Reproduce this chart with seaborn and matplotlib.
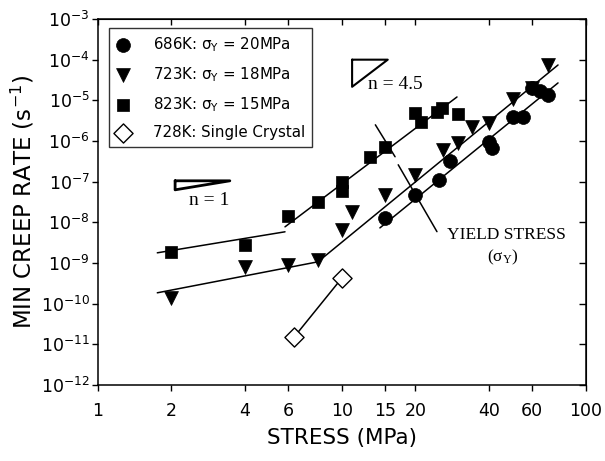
import numpy as np
import pandas as pd
import matplotlib
matplotlib.use("Agg")
import matplotlib.pyplot as plt
import seaborn as sns
from matplotlib.ticker import FixedLocator, NullLocator, FixedFormatter

# ---------------- data ----------------
x686 = [15, 20, 25, 27.7, 40, 41, 50, 55, 60, 65, 70]
y686 = [1.3e-8, 4.6e-8, 1.1e-7, 3.3e-7, 9.6e-7, 6.8e-7, 4.0e-6, 3.9e-6, 2.0e-5, 1.7e-5, 1.35e-5]

x723 = [2, 4, 6, 8, 10, 11, 15, 20, 26, 30, 34, 40, 50, 60, 70]
y723 = [1.4e-10, 8e-10, 9e-10, 1.2e-9, 6.3e-9, 1.8e-8, 4.7e-8, 1.5e-7, 6e-7, 9e-7,
        2.2e-6, 2.8e-6, 1.1e-5, 2e-5, 7.4e-5]

x823 = [2, 4, 6, 8, 10, 10, 13, 15, 20, 21, 24.5, 25.8, 30]
y823 = [1.9e-9, 2.8e-9, 1.4e-8, 3.2e-8, 1.0e-7, 5.8e-8, 4.0e-7, 7.2e-7, 4.9e-6, 3.0e-6,
        5.2e-6, 6.5e-6, 4.7e-6]

x728 = [6.36, 10]
y728 = [1.5e-11, 4.3e-10]

labels = [r"686K: $\sigma_Y$ = 20MPa",
          r"723K: $\sigma_Y$ = 18MPa",
          r"823K: $\sigma_Y$ = 15MPa",
          "728K: Single Crystal"]

# fitted lines (endpoints)
fit_823_low_x, fit_823_low_y = [1.75, 5.84], [1.78e-9, 5.85e-9]
fit_823_high_x, fit_823_high_y = [5.84, 29.6], [7.75e-9, 1.21e-5]
fit_723_low_x, fit_723_low_y = [1.75, 7.97], [1.85e-10, 1.07e-9]
fit_723_high_x, fit_723_high_y = [7.97, 76.8], [1.07e-9, 7.4e-5]
fit_686_x, fit_686_y = [14.3, 76.8], [7.3e-9, 2.68e-5]

# yield stress markers
ys1_x, ys1_y = [13.7, 16.5], [2.5e-6, 4.1e-7]
ys2_x, ys2_y = [17.0, 24.5], [2.6e-7, 5.9e-9]

# slope triangles
tri1_x, tri1_y = [2.07, 3.47, 2.07, 2.07], [1.05e-7, 1.05e-7, 6.3e-8, 1.05e-7]
tri45_x, tri45_y = [11.0, 15.4, 11.0, 11.0], [1.0e-4, 1.0e-4, 2.15e-5, 1.0e-4]

xticks = [1, 2, 4, 6, 10, 15, 20, 40, 60, 100]
xticklabels = ["1", "2", "4", "6", "10", "15", "20", "40", "60", "100"]
yexp = list(range(-12, -2))

# ---------------- style ----------------
sns.set_style("ticks")
plt.rcParams["font.family"] = ["DejaVu Sans"]
plt.rcParams["mathtext.fontset"] = "dejavusans"
plt.rcParams["mathtext.default"] = "regular"
for k in ["text.color", "axes.labelcolor", "xtick.color", "ytick.color",
          "xtick.labelcolor", "ytick.labelcolor", "axes.edgecolor"]:
    plt.rcParams[k] = "black"

fig, ax = plt.subplots(figsize=(6.05, 4.61), dpi=100)
fig.subplots_adjust(left=98/605, right=586/605, top=1-19/461, bottom=1-385/461)

sns.scatterplot(x=x686, y=y686, marker="o", s=100, color="black", edgecolor="black",
                linewidth=0.5, label=labels[0], ax=ax, zorder=3)
sns.scatterplot(x=x723, y=y723, marker="v", s=100, color="black", edgecolor="black",
                linewidth=0.5, label=labels[1], ax=ax, zorder=3)
sns.scatterplot(x=x823, y=y823, marker="s", s=85, color="black", edgecolor="black",
                linewidth=0.5, label=labels[2], ax=ax, zorder=3)
sns.scatterplot(x=x728, y=y728, marker="D", s=95, color="white", edgecolor="black",
                linewidth=1.0, label=labels[3], ax=ax, zorder=3)

lkw = dict(color="black", linewidth=1.1, legend=False, ax=ax, sort=False, zorder=2)
for xs, ys in [(fit_823_low_x, fit_823_low_y), (fit_823_high_x, fit_823_high_y),
               (fit_723_low_x, fit_723_low_y), (fit_723_high_x, fit_723_high_y),
               (fit_686_x, fit_686_y), (x728, y728), (ys1_x, ys1_y), (ys2_x, ys2_y)]:
    sns.lineplot(x=xs, y=ys, **lkw)

ax.plot(tri1_x, tri1_y, color="black", linewidth=2.0, solid_joinstyle="round")
ax.plot(tri45_x, tri45_y, color="black", linewidth=1.5)

ax.set_xscale("log")
ax.set_yscale("log")
ax.set_xlim(1, 100)
ax.set_ylim(1e-12, 1e-3)

ax.xaxis.set_major_locator(FixedLocator(xticks))
ax.xaxis.set_major_formatter(FixedFormatter(xticklabels))
ax.xaxis.set_minor_locator(NullLocator())
ax.yaxis.set_major_locator(FixedLocator([10.0**e for e in yexp]))
ax.yaxis.set_major_formatter(FixedFormatter([r"$10^{%d}$" % e for e in yexp]))
ax.yaxis.set_minor_locator(NullLocator())
ax.tick_params(axis="both", direction="out", length=4, width=1, labelsize=12.5,
               colors="black")
ax.tick_params(axis="x", pad=8)
ax.tick_params(axis="y", pad=2)

for sp in ax.spines.values():
    sp.set_linewidth(1.1)
    sp.set_color("black")
    sp.set_visible(True)

secx = ax.secondary_xaxis("top")
secx.xaxis.set_major_locator(FixedLocator(xticks))
secx.xaxis.set_minor_locator(NullLocator())
secx.tick_params(direction="in", length=4, width=1, labeltop=False, colors="black")
secy = ax.secondary_yaxis("right")
secy.yaxis.set_major_locator(FixedLocator([10.0**e for e in yexp]))
secy.yaxis.set_minor_locator(NullLocator())
secy.tick_params(direction="in", length=5, width=1, labelright=False, colors="black")

ax.set_xlabel("STRESS (MPa)", fontsize=15.5, labelpad=6, color="black")
ax.set_ylabel(r"MIN CREEP RATE (s$^{-1}$)", fontsize=16.5, labelpad=3, color="black")

serif = ["Liberation Serif", "DejaVu Serif"]
ax.text(12.8, 2.5e-5, "n = 4.5", family=serif, fontsize=14, ha="left", va="center",
        color="black")
ax.text(2.85, 3.4e-8, "n = 1", family=serif, fontsize=14, ha="center", va="center",
        color="black")
ax.text(47, 4.9e-9, "YIELD STRESS", family=serif, fontsize=12.5, ha="center",
        va="center", color="black")
ax.text(45.6, 1.4e-9, r"($\sigma_Y$)", family=serif, fontsize=12.5,
        ha="center", va="center", color="black")

leg = ax.legend(loc="upper left", bbox_to_anchor=(0.0225, 0.975), borderaxespad=0,
                fontsize=10.8, frameon=True, fancybox=False, edgecolor="black",
                handlelength=1.0, handletextpad=1.5, labelspacing=0.75,
                borderpad=0.45, markerscale=1.0, labelcolor="black")
leg.get_frame().set_linewidth(1.0)

fig.savefig("out.png", dpi=100)
